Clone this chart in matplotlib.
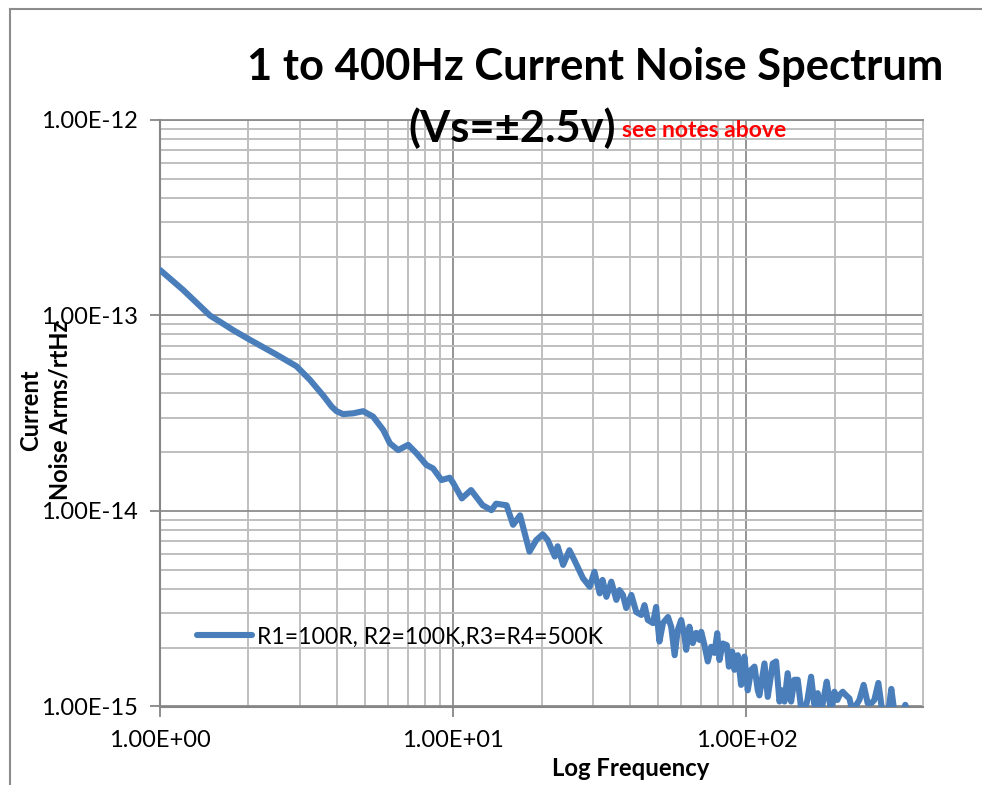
import numpy as np
import matplotlib.pyplot as plt
from matplotlib.ticker import FixedLocator, FuncFormatter, LogLocator, NullFormatter
from matplotlib.lines import Line2D

plt.rcParams['font.family'] = ['Lato', 'DejaVu Sans']

# data (frequency in Hz, noise in fA/rtHz)
freq = [1.00, 1.20, 1.48, 1.60, 1.78, 2.03, 2.25, 2.50, 2.92, 3.24, 3.60, 3.85,
        4.00, 4.21, 4.56, 4.93, 5.33, 5.77, 6.08, 6.49, 7.02, 7.50, 8.10, 8.54,
        9.12, 9.73, 10.0, 10.7, 11.5, 12.6, 13.5, 14.0, 15.2, 16.0, 16.9, 18.2,
        19.2, 20.2, 21.0, 22.2, 22.7, 23.7, 24.9, 25.9,
        27.7, 29.2, 30.3, 31.6, 32.3, 33.3, 34.6, 36.0, 36.9, 37.9, 38.9, 40.5,
        42.1, 43.8, 44.9, 46.1, 48.0, 49.2, 50.5, 51.9, 54.0, 55.4, 56.9, 58.3,
        59.9, 61.5, 62.3, 63.9, 65.6, 67.4, 69.2, 70.1, 71.9, 73.8, 75.8, 77.8,
        79.5, 80.9, 83.0, 85.7, 87.1, 89.4, 91.0, 93.4, 95.9, 98.4, 101.0, 103.8,
        106.5, 109.3, 110.7, 115.2, 118.2, 122.9, 126.2, 129.6, 132.7, 134.8,
        138.2, 142.0, 145.7, 149.6, 153.6, 157.6, 161.4, 166.1, 170.5, 175.0,
        179.7, 183.0, 187.8, 194.4, 199.5, 204.2, 207.5, 212.9, 218.7, 224.4,
        230.2, 237.0, 242.7, 251.0, 259.0, 266.7, 273.0, 281.7, 290.6, 297.5,
        304.6, 311.9, 319.3, 332.1, 340.0, 348.1, 353.7]
noise_fa = [171, 135, 100, 93, 84, 75, 68.8, 63, 55, 47, 39, 34.2,
            32.4, 31.3, 31.6, 32.4, 30.4, 26.0, 22.2, 20.5, 21.8, 19.7, 17.2, 16.5,
            14.4, 14.8, 13.9, 11.6, 12.8, 10.7, 10.1, 10.9, 10.7, 8.5, 9.5, 6.2,
            7.1, 7.6, 7.1, 5.85, 6.6, 5.3, 6.3, 5.6,
            4.53, 4.10, 4.89, 3.79, 4.44, 3.64, 4.35, 3.51, 3.94, 3.72, 3.19, 3.72,
            3.04, 2.94, 3.30, 2.77, 2.67, 3.23, 2.15, 2.67, 2.87, 2.55, 1.83, 2.46,
            2.77, 2.28, 1.95, 2.56, 2.11, 2.38, 2.19, 2.41, 2.06, 1.70, 2.02, 1.88,
            2.37, 1.73, 2.10, 2.06, 1.60, 1.91, 1.54, 1.83, 1.29, 1.80, 1.21, 1.54,
            1.60, 1.21, 1.14, 1.66, 1.12, 1.66, 1.70, 1.06, 1.21, 1.06,
            1.48, 1.06, 1.37, 1.37, 0.98, 0.94, 1.08, 1.42, 1.02, 1.17,
            0.94, 1.08, 1.34, 0.94, 1.19, 1.08, 1.14, 1.19, 1.14, 1.10,
            0.94, 1.02, 1.08, 1.29, 1.04, 1.04, 1.08, 1.32, 0.94, 0.905,
            0.94, 1.23, 0.94, 0.905, 0.94, 1.02, 0.94]
noise = np.array(noise_fa) * 1e-15

series_label = "R1=100R, R2=100K,R3=R4=500K"
x_ticks = [1, 10, 100]
y_ticks = [1e-15, 1e-14, 1e-13, 1e-12]

fig = plt.figure(figsize=(9.82, 7.85), dpi=100)
ax = fig.add_axes([160 / 982, 1 - 706.5 / 785, 763 / 982, 586.5 / 785])

ax.plot(freq, noise, color='#4A7EBB', lw=4.4, solid_joinstyle='round',
        solid_capstyle='round', label=series_label, zorder=3)

ax.set_xscale('log')
ax.set_yscale('log')
ax.set_xlim(1, 400)
ax.set_ylim(1e-15, 1e-12)

fmt = FuncFormatter(lambda v, p: "{:.2E}".format(v))
ax.xaxis.set_major_locator(FixedLocator(x_ticks))
ax.yaxis.set_major_locator(FixedLocator(y_ticks))
ax.xaxis.set_major_formatter(fmt)
ax.yaxis.set_major_formatter(fmt)
ax.xaxis.set_minor_locator(LogLocator(base=10, subs=np.arange(2, 10), numticks=20))
ax.yaxis.set_minor_locator(LogLocator(base=10, subs=np.arange(2, 10), numticks=20))
ax.xaxis.set_minor_formatter(NullFormatter())
ax.yaxis.set_minor_formatter(NullFormatter())

ax.grid(True, which='minor', color='#BFBFBF', lw=1.4)
ax.grid(True, which='major', color='#8C8C8C', lw=1.3)
ax.set_axisbelow(True)

ax.tick_params(which='major', direction='out', length=7, width=1.3, color='#868686',
               labelsize=17, pad=10)
ax.tick_params(axis='y', which='major', pad=9)
ax.tick_params(which='minor', length=0)

for s in ['left', 'bottom']:
    ax.spines[s].set_color('#868686')
    ax.spines[s].set_linewidth(1.5)
ax.spines['top'].set_color('#8C8C8C')
ax.spines['top'].set_linewidth(1.3)
ax.spines['right'].set_color('#BFBFBF')
ax.spines['right'].set_linewidth(1.4)

leg = ax.legend(loc='center left', bbox_to_anchor=((197 - 160) / 763, (706.5 - 637) / 586.5),
                frameon=False, fontsize=16.6, handlelength=2.4, handletextpad=0.2,
                borderpad=0, borderaxespad=0)

# titles and axis labels
fig.text(595 / 982, 1 - 80 / 785, "1 to 400Hz Current Noise Spectrum",
         fontsize=31.3, fontweight='bold', ha='center', va='baseline')
fig.text(408 / 982, 1 - 142 / 785, "(Vs=\u00b12.5v)",
         fontsize=31.3, fontweight='bold', ha='left', va='baseline')
fig.text(622 / 982, 1 - 137 / 785, "see notes above", color='red',
         fontsize=16.5, fontweight='bold', ha='left', va='baseline')
fig.text(631 / 982, 1 - 768 / 785, "Log Frequency", fontsize=17.2, fontweight='bold',
         ha='center', va='center')
fig.text(45 / 982, 1 - 410 / 785, "Current\nNoise Arms/rtHz", fontsize=17,
         fontweight='bold', rotation=90, ha='center', va='center',
         multialignment='center', linespacing=1.35)

# chart area border (cropped at right and bottom)
fig.add_artist(Line2D([10 / 982, 10 / 982], [0, 1 - 9 / 785], color='#8C8C8C', lw=1.5))
fig.add_artist(Line2D([10 / 982, 1], [1 - 9 / 785, 1 - 9 / 785], color='#8C8C8C', lw=1.5))

plt.savefig('out.png', dpi=100)
